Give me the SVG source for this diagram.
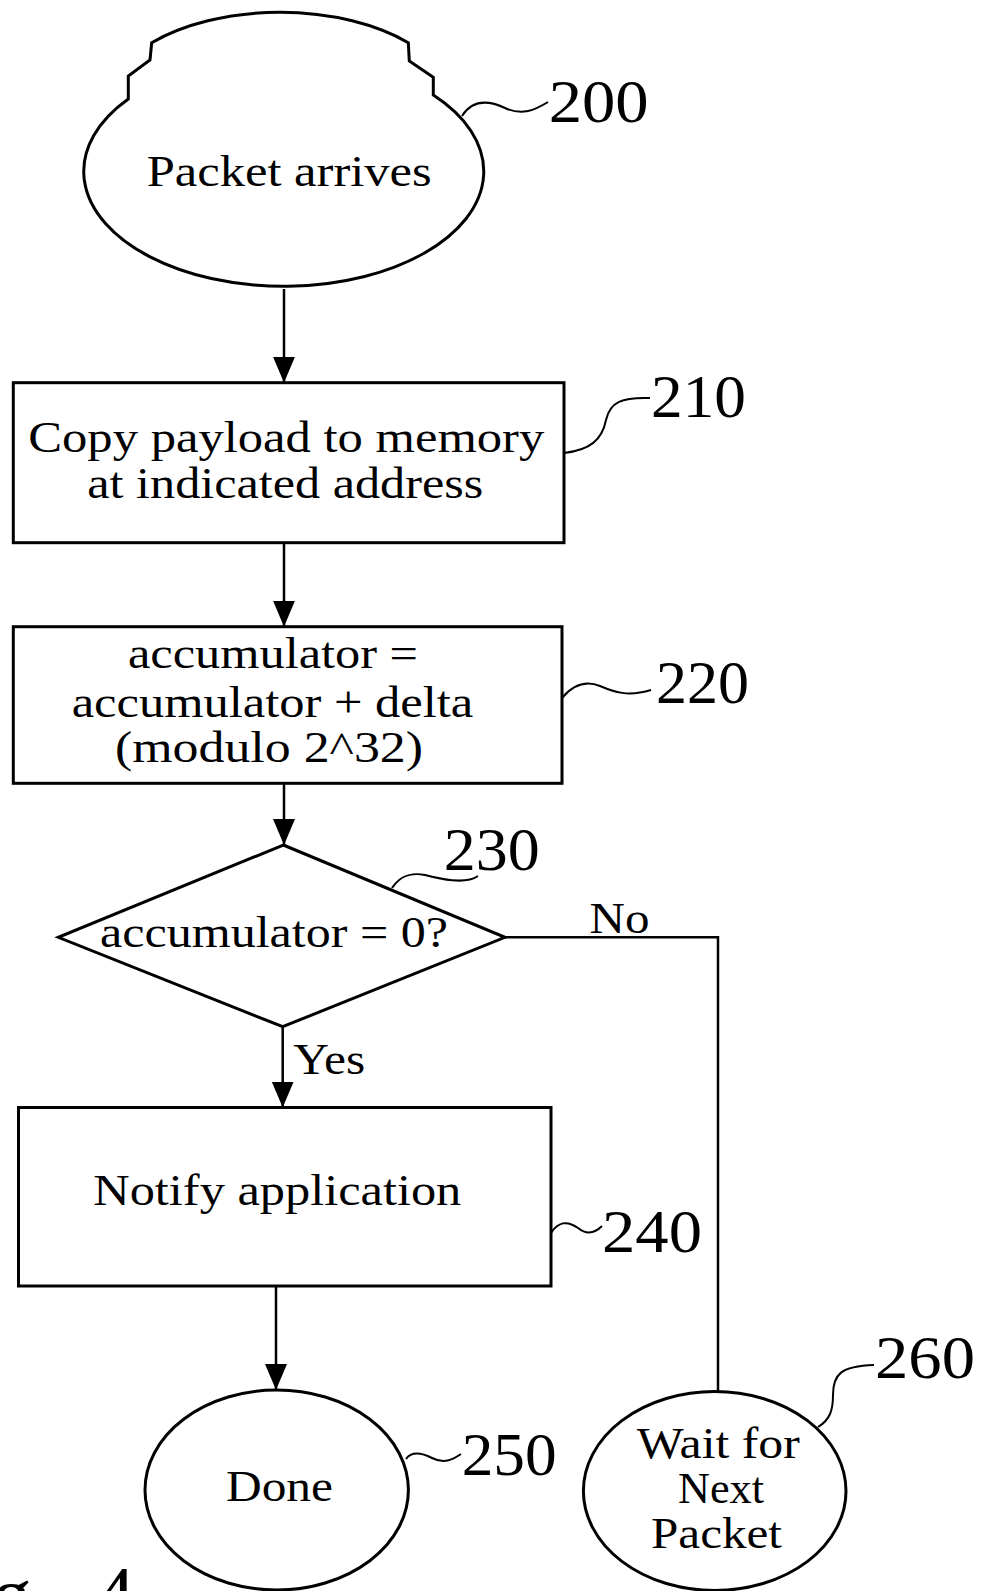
<svg xmlns="http://www.w3.org/2000/svg" width="982" height="1591" viewBox="0 0 982 1591">
<style>
  .shape { fill: #fff; stroke: #000; stroke-width: 3; }
  .conn { fill: none; stroke: #000; stroke-width: 2.5; }
  .lead { fill: none; stroke: #000; stroke-width: 2; }
  .t { font-family: "Liberation Serif", "Times New Roman", serif; font-size: 44px; fill: #000; }
  .num { font-family: "Liberation Serif", "Times New Roman", serif; font-size: 61px; fill: #000; }
  .fig { font-family: "Liberation Serif", "Times New Roman", serif; font-size: 80px; fill: #000; }
</style>
<defs>
  <marker id="ah" viewBox="0 0 26 22" refX="26" refY="11" markerWidth="26" markerHeight="22" markerUnits="userSpaceOnUse" orient="auto">
    <path d="M0,0 L26,11 L0,22 Z" fill="#000"/>
  </marker>
</defs>
<rect width="982" height="1591" fill="#fff"/>

<g id="connectors">
  <path class="conn" d="M284,289 V382.7" marker-end="url(#ah)"/>
  <path class="conn" d="M284,542.7 V626.7" marker-end="url(#ah)"/>
  <path class="conn" d="M284,783.3 V845" marker-end="url(#ah)"/>
  <path class="conn" d="M282.7,1026.7 V1107.5" marker-end="url(#ah)"/>
  <path class="conn" d="M276,1286 V1390" marker-end="url(#ah)"/>
  <path class="conn" d="M505,937.3 H718 V1391.7"/>
  <text class="t" x="589.6" y="932.7" textLength="60" lengthAdjust="spacingAndGlyphs">No</text>
  <text class="t" x="293.3" y="1074" textLength="72" lengthAdjust="spacingAndGlyphs">Yes</text>
</g>

<g id="n200">
  <path class="shape" d="M433.3,95 L433.3,77.3 L409.3,61 L408.3,42.7 A180 102 0 0 0 151.7,42.7 L150,60 L128.3,76 L128.3,99 A200 115 0 1 0 433.3,95 Z"/>
  <text class="t" x="146.7" y="186" textLength="285" lengthAdjust="spacingAndGlyphs" style="font-size:45px">Packet arrives</text>
  <path class="lead" d="M462,116 C472,100 488,100 505,108 C522,116 535,110 548,102"/>
  <text class="num" x="548.7" y="121.7" textLength="100" lengthAdjust="spacingAndGlyphs">200</text>
</g>

<g id="n210">
  <rect class="shape" x="13.3" y="382.7" width="550.7" height="160"/>
  <text class="t" x="28.3" y="451.7" textLength="516" lengthAdjust="spacingAndGlyphs">Copy payload to memory</text>
  <text class="t" x="87.3" y="498.3" textLength="396" lengthAdjust="spacingAndGlyphs">at indicated address</text>
  <path class="lead" d="M564,453 C590,450 602,440 606,420 C610,402 622,397 650,398"/>
  <text class="num" x="651" y="416.7" textLength="95" lengthAdjust="spacingAndGlyphs">210</text>
</g>

<g id="n220">
  <rect class="shape" x="13.3" y="626.7" width="548.7" height="156.6"/>
  <text class="t" x="128" y="668.3" textLength="290" lengthAdjust="spacingAndGlyphs">accumulator =</text>
  <text class="t" x="71.7" y="716.7" textLength="401.6" lengthAdjust="spacingAndGlyphs">accumulator + delta</text>
  <text class="t" x="115" y="761.7" textLength="308" lengthAdjust="spacingAndGlyphs">(modulo 2^32)</text>
  <path class="lead" d="M562,698 C572,686 585,680 600,686 C614,692 628,697 651,690"/>
  <text class="num" x="656" y="703.3" textLength="93" lengthAdjust="spacingAndGlyphs">220</text>
</g>

<g id="n230">
  <path class="shape" d="M283.3,845 L505,937.3 L282.7,1026.7 L58.3,937.3 Z"/>
  <text class="t" x="100" y="947.3" textLength="348" lengthAdjust="spacingAndGlyphs">accumulator = 0?</text>
  <path class="lead" d="M392,888 C400,876 410,872 425,875 C440,879 465,885 478,876"/>
  <text class="num" x="443.8" y="870" textLength="96" lengthAdjust="spacingAndGlyphs">230</text>
</g>

<g id="n240">
  <rect class="shape" x="18.5" y="1107.5" width="532.5" height="178.5"/>
  <text class="t" x="93.3" y="1205" textLength="368" lengthAdjust="spacingAndGlyphs">Notify application</text>
  <path class="lead" d="M551,1233 C558,1222 567,1220 578,1228 C588,1236 596,1232 602,1226"/>
  <text class="num" x="602" y="1251.7" textLength="100" lengthAdjust="spacingAndGlyphs">240</text>
</g>

<g id="n250">
  <ellipse class="shape" cx="276.7" cy="1490" rx="131.7" ry="100"/>
  <text class="t" x="226" y="1500.7" textLength="107" lengthAdjust="spacingAndGlyphs" style="font-size:45px">Done</text>
  <path class="lead" d="M406,1459 C411,1452 420,1452 432,1458 C444,1464 452,1460 461,1454"/>
  <text class="num" x="461.7" y="1475" textLength="95" lengthAdjust="spacingAndGlyphs">250</text>
</g>

<g id="n260">
  <ellipse class="shape" cx="714.7" cy="1491" rx="131.3" ry="99.5"/>
  <text class="t" x="636.7" y="1458.3" textLength="163" lengthAdjust="spacingAndGlyphs">Wait for</text>
  <text class="t" x="678" y="1503.3" textLength="86" lengthAdjust="spacingAndGlyphs">Next</text>
  <text class="t" x="651" y="1548.3" textLength="131" lengthAdjust="spacingAndGlyphs">Packet</text>
  <path class="lead" d="M818,1427 C830,1420 833,1410 833,1395 C833,1375 840,1366 874,1365"/>
  <text class="num" x="875" y="1378.3" textLength="100" lengthAdjust="spacingAndGlyphs">260</text>
</g>

<g id="figlabel">
  <text class="fig" x="-75" y="1622">Fig.<tspan x="95">4</tspan></text>
</g>
</svg>
